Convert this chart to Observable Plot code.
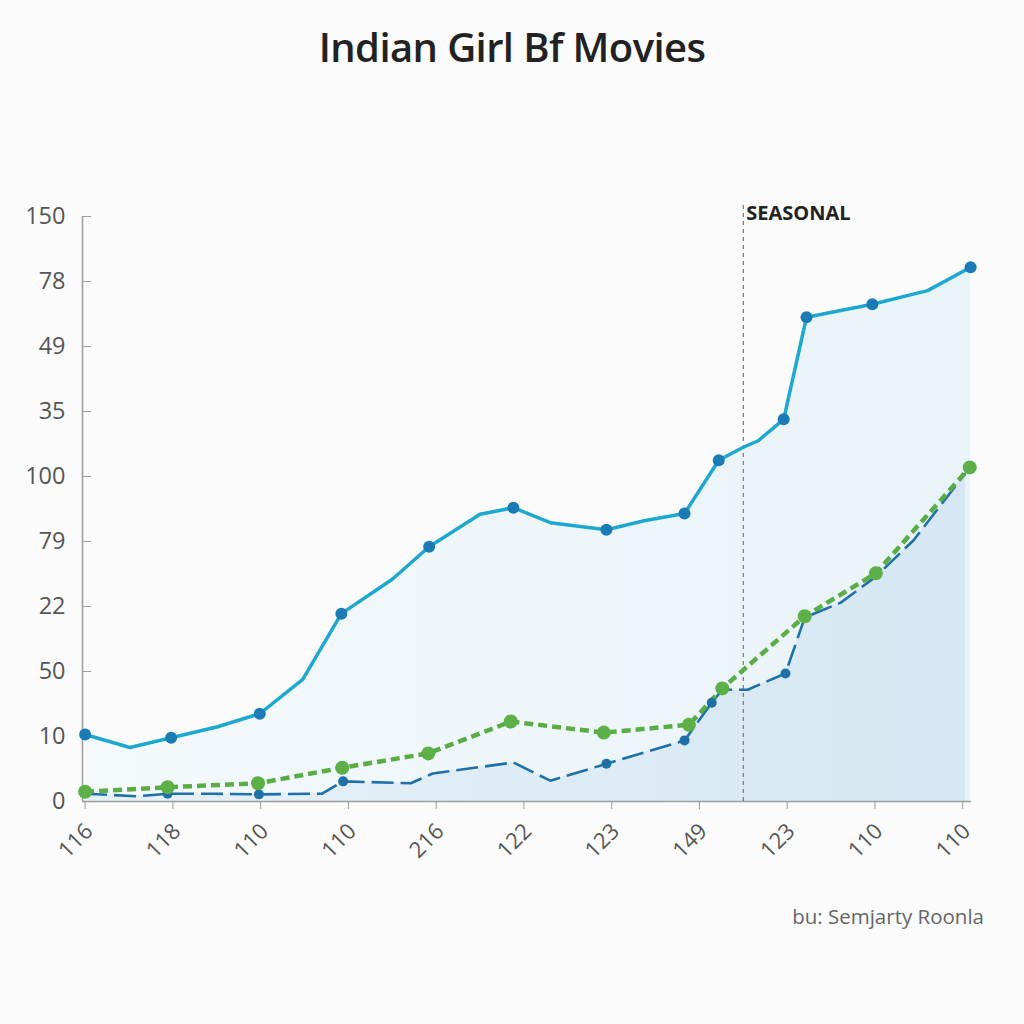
<!DOCTYPE html>
<html><head><meta charset="utf-8">
<script src="https://cdn.jsdelivr.net/npm/d3@7"></script>
<script src="https://cdn.jsdelivr.net/npm/@observablehq/plot@0.6"></script>
<style>
body{margin:0;background:#fbfbfb;font-family:"Open Sans",sans-serif;width:1024px;}
#title{height:94px;line-height:94px;text-align:center;font-size:40px;font-weight:600;color:#222;letter-spacing:-0.6px}
#caption{text-align:right;padding-right:40px;font-size:20.5px;color:#666;margin-top:28px}
</style></head><body>
<div id="title">Indian Girl Bf Movies</div>
<div id="chart"></div>
<div id="caption">bu: Semjarty Roonla</div>
<script>
const xTickLabels = ["116","118","110","110","216","122","123","149","123","110","110"];
const yTickLabels = ["0","10","50","22","79","100","35","49","78","150"];

const cyanX = [0, 0.51, 0.98, 1.51, 1.99, 2.48, 2.92, 3.50, 3.92, 4.50, 4.88, 5.30, 5.94, 6.37, 6.83, 7.22, 7.50, 7.67, 7.96, 8.22, 8.97, 9.60, 10.09];
const cyanY = [1.03, 0.83, 0.98, 1.15, 1.35, 1.88, 2.89, 3.42, 3.92, 4.42, 4.52, 4.29, 4.18, 4.32, 4.43, 5.25, 5.45, 5.55, 5.88, 7.45, 7.65, 7.86, 8.22];
const cyanMark = [1,0,1,0,1,0,1,0,1,0,1,0,1,0,1,1,0,0,1,1,1,0,1];

const greenX = [0, 0.94, 1.97, 2.93, 3.91, 4.85, 5.91, 6.88, 7.26, 8.20, 9.01, 10.08];
const greenY = [0.15, 0.22, 0.28, 0.52, 0.74, 1.23, 1.06, 1.18, 1.74, 2.85, 3.51, 5.14];

const blueX = [0, 0.59, 0.94, 1.46, 1.98, 2.70, 2.94, 3.71, 3.96, 4.88, 5.30, 5.94, 6.83, 7.14, 7.26, 7.55, 7.98, 8.20, 8.61, 9.01, 9.44, 10.03];
const blueY = [0.12, 0.08, 0.12, 0.12, 0.11, 0.12, 0.31, 0.28, 0.43, 0.60, 0.32, 0.58, 0.94, 1.52, 1.72, 1.72, 1.97, 2.83, 3.06, 3.46, 4.02, 5.05];
const blueMark = [0,0,1,0,1,0,1,0,0,0,0,1,1,1,0,0,1,0,0,0,0,0];

const seasonalAt = 7.5;
const seasonalTop = 9.17;
const seasonalLabel = "SEASONAL";

const xMin = -0.03, xMax = 10.1;

const cyan = cyanX.map((x, i) => ({x, y: cyanY[i], m: cyanMark[i]}));
const green = greenX.map((x, i) => ({x, y: greenY[i]}));
const blue = blueX.map((x, i) => ({x, y: blueY[i], m: blueMark[i]}));
const xTicks = xTickLabels.map((label, i) => ({i, label}));

const chart = Plot.plot({
  width: 1024,
  height: 780,
  marginLeft: 82,
  marginRight: 53,
  marginTop: 122,
  marginBottom: 73,
  style: {fontFamily: "Open Sans, sans-serif", background: "transparent"},
  x: {domain: [xMin, xMax]},
  y: {domain: [0, 9]},
  marks: [
    Plot.areaY(cyan, {x: "x", y: "y", fill: "url(#gA)"}),
    Plot.areaY(blue, {x: "x", y: "y", fill: "url(#gB)"}),
    Plot.ruleY([0], {stroke: "#9c9c9c", strokeWidth: 1.5}),
    Plot.ruleX([xMin], {stroke: "#9c9c9c", strokeWidth: 1.5}),
    Plot.axisY({ticks: d3.range(yTickLabels.length), tickFormat: i => yTickLabels[i], tickSize: -9, tickPadding: 26, fontSize: 23.5, stroke: "#9c9c9c", fill: "#555", label: null}),
    Plot.axisX({ticks: d3.range(xTickLabels.length), tickFormat: () => "", tickSize: 8, stroke: "#9c9c9c", label: null}),
    Plot.text(xTicks, {x: "i", y: 0, text: "label", rotate: -45, textAnchor: "end", lineAnchor: "middle", dx: 4, dy: 26, fontSize: 22, fill: "#555"}),
    Plot.ruleX([seasonalAt], {y1: 0, y2: seasonalTop, stroke: "#777", strokeWidth: 1.2, strokeDasharray: "4,4"}),
    Plot.text([seasonalLabel], {x: seasonalAt, y: 9.05, text: d => d, textAnchor: "start", dx: 3, fontSize: 20, fontWeight: "bold", fill: "#222", letterSpacing: -0.3}),
    Plot.line(blue, {x: "x", y: "y", stroke: "#1f6fa8", strokeWidth: 2.6, strokeDasharray: "22,7", strokeLinecap: "butt"}),
    Plot.line(green, {x: "x", y: "y", stroke: "#5aac44", strokeWidth: 4.5, strokeDasharray: "9,5", strokeLinecap: "butt"}),
    Plot.line(cyan, {x: "x", y: "y", stroke: "#1fa8cf", strokeWidth: 3.5}),
    Plot.dot(cyan.filter(d => d.m), {x: "x", y: "y", r: 6, fill: "#1a7bb5"}),
    Plot.dot(blue.filter(d => d.m), {x: "x", y: "y", r: 5, fill: "#1f6fa8"}),
    Plot.dot(green, {x: "x", y: "y", r: 7, fill: "#5cb047"})
  ]
});

const defs = d3.select(chart).insert("defs", ":first-child");
const gA = defs.append("linearGradient").attr("id", "gA").attr("x1", 0).attr("x2", 1).attr("y1", 0).attr("y2", 0);
gA.append("stop").attr("offset", "0%").attr("stop-color", "#f4f9fb");
gA.append("stop").attr("offset", "100%").attr("stop-color", "#e8f3f8");
const gB = defs.append("linearGradient").attr("id", "gB").attr("x1", 0).attr("x2", 1).attr("y1", 0).attr("y2", 0);
gB.append("stop").attr("offset", "0%").attr("stop-color", "#e6f1f7");
gB.append("stop").attr("offset", "100%").attr("stop-color", "#d5e7f3");

document.getElementById("chart").appendChild(chart);
</script>
</body></html>
